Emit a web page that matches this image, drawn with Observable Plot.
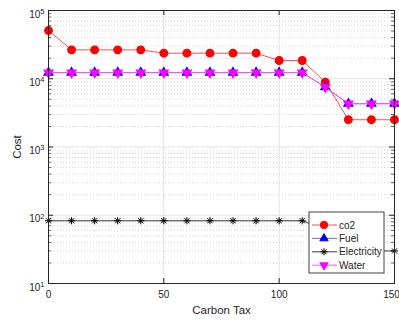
<!DOCTYPE html>
<html>
<head>
<meta charset="utf-8">
<script src="https://cdn.jsdelivr.net/npm/d3@7"></script>
<script src="https://cdn.jsdelivr.net/npm/@observablehq/plot@0.6"></script>
<style>
  html, body { margin: 0; padding: 0; background: white; }
</style>
</head>
<body>
<div id="chart"></div>
<script>
const carbonTax = [0, 10, 20, 30, 40, 50, 60, 70, 80, 90, 100, 110, 120, 130, 140, 150];
const co2 = [50800, 26500, 26500, 26500, 26500, 23700, 23700, 23700, 23700, 23700, 18500, 18500, 8930, 2510, 2510, 2510];
const fuel = [12300, 12300, 12300, 12300, 12300, 12300, 12300, 12300, 12300, 12300, 12300, 12300, 7540, 4310, 4310, 4310];
const electricity = [83, 83, 83, 83, 83, 83, 83, 83, 83, 83, 83, 83, 62, 30, 30, 30];
const water = [12300, 12300, 12300, 12300, 12300, 12300, 12300, 12300, 12300, 12300, 12300, 12300, 7540, 4310, 4310, 4310];
const seriesNames = ["co2", "Fuel", "Electricity", "Water"];
const xTicks = [0, 50, 100, 150];
const yMajor = [10, 100, 1000, 10000, 100000];

const seriesValues = [co2, fuel, electricity, water];
const lineColors = ["#ff4d4d", "#6a6aff", "#3a3a3a", "#ff55ff"];
const markColors = ["#ff0000", "#0000ff", "#000000", "#ff00ff"];

const rows = (vals, name) => carbonTax.map((x, i) => ({x, y: vals[i], name}));
const tables = seriesValues.map((v, k) => rows(v, seriesNames[k]));

const yMinor = [];
for (let e = 1; e < 5; e++) for (let m = 2; m <= 9; m++) yMinor.push(m * Math.pow(10, e));

// MATLAB-style eight-armed asterisk
const star8 = {
  draw(ctx, size) {
    const r = Math.sqrt(size / Math.PI);
    const d = r * Math.SQRT1_2;
    ctx.moveTo(-r, 0); ctx.lineTo(r, 0);
    ctx.moveTo(0, -r); ctx.lineTo(0, r);
    ctx.moveTo(-d, -d); ctx.lineTo(d, d);
    ctx.moveTo(-d, d); ctx.lineTo(d, -d);
  }
};

const W = 399, H = 320, ML = 48, MR = 5, MT = 10, MB = 37;
const fw = W - ML - MR, fh = H - MT - MB;
const FONT = "'Liberation Sans', Arial, sans-serif";

const svg = Plot.plot({
  width: W, height: H,
  marginLeft: ML, marginRight: MR, marginTop: MT, marginBottom: MB,
  style: {fontFamily: FONT, fontSize: "10px", background: "white", color: "#262626"},
  x: {domain: [0, 150]},
  y: {type: "log", domain: [10, 100000]},
  marks: [
    Plot.ruleY(yMinor, {y: d => d, stroke: "#c8c8c8", strokeDasharray: "1,2", strokeWidth: 0.8}),
    Plot.ruleY(yMajor, {y: d => d, stroke: "#e2e2e2", strokeWidth: 1}),
    Plot.ruleX(xTicks, {x: d => d, stroke: "#e2e2e2", strokeWidth: 1}),
    // inward ticks
    Plot.ruleY(yMajor, {y: d => d, insetRight: fw - 5, stroke: "#262626"}),
    Plot.ruleY(yMajor, {y: d => d, insetLeft: fw - 5, stroke: "#262626"}),
    Plot.ruleY(yMinor, {y: d => d, insetRight: fw - 3, stroke: "#262626", strokeWidth: 0.7}),
    Plot.ruleY(yMinor, {y: d => d, insetLeft: fw - 3, stroke: "#262626", strokeWidth: 0.7}),
    Plot.ruleX(xTicks, {x: d => d, insetTop: fh - 5, stroke: "#262626"}),
    Plot.ruleX(xTicks, {x: d => d, insetBottom: fh - 5, stroke: "#262626"}),
    Plot.axisX({ticks: xTicks, tickSize: 0, tickPadding: 7, label: "Carbon Tax", labelAnchor: "center", labelArrow: "none", labelOffset: 30}),
    Plot.axisY({ticks: yMajor, tickSize: 0, tickPadding: 4, tickFormat: d => String(Math.round(Math.log10(d))), dy: 4, label: "Cost", labelAnchor: "center", labelArrow: "none", labelOffset: 36}),
    // co2
    Plot.line(tables[0], {x: "x", y: "y", stroke: lineColors[0], strokeWidth: 1}),
    Plot.dot(tables[0], {x: "x", y: "y", r: 3.7, fill: markColors[0], stroke: markColors[0]}),
    // fuel
    Plot.line(tables[1], {x: "x", y: "y", stroke: lineColors[1], strokeWidth: 1}),
    Plot.dot(tables[1], {x: "x", y: "y", r: 3.1, symbol: "triangle", fill: markColors[1], stroke: markColors[1]}),
    // electricity
    Plot.line(tables[2], {x: "x", y: "y", stroke: lineColors[2], strokeWidth: 1}),
    Plot.dot(tables[2], {x: "x", y: "y", r: 3.6, symbol: star8, fill: "none", stroke: markColors[2], strokeWidth: 1}),
    // water
    Plot.line(tables[3], {x: "x", y: "y", stroke: lineColors[3], strokeWidth: 1}),
    Plot.dot(tables[3], {x: "x", y: "y", r: 3.1, symbol: "triangle", rotate: 180, fill: markColors[3], stroke: markColors[3]}),
    Plot.frame({stroke: "#262626", strokeWidth: 1})
  ]
});

const s = d3.select(svg);
// axis label font sizes
s.selectAll("g[aria-label='x-axis label'] text, g[aria-label='y-axis label'] text")
  .style("font-size", "11.5px");

// y tick labels as 10 with superscript exponent
s.selectAll("g[aria-label='y-axis tick label'] text").each(function() {
  const t = d3.select(this);
  const e = t.text();
  t.text("");
  t.append("tspan").text("10");
  t.append("tspan").attr("dy", "-0.5em").style("font-size", "7.5px").text(e);
});

// keep the last x tick label inside the picture
const xl = s.selectAll("g[aria-label='x-axis tick label'] text").nodes();
if (xl.length) d3.select(xl[xl.length - 1]).attr("dx", -3);

// legend overlay
const lg = s.append("g").attr("class", "legend");
const lx = 309, ly = 212, lw = 75, lh = 61;
lg.append("rect").attr("x", lx).attr("y", ly).attr("width", lw).attr("height", lh)
  .attr("fill", "white").attr("stroke", "#404040").attr("stroke-width", 1);
const symbols = [d3.symbolCircle, d3.symbolTriangle, star8, d3.symbolTriangle];
const symSizes = [43, 30, 40, 30];
seriesNames.forEach((name, k) => {
  const yy = ly + 13 + k * 13.4;
  lg.append("line").attr("x1", lx + 3).attr("x2", lx + 28).attr("y1", yy).attr("y2", yy)
    .attr("stroke", lineColors[k]).attr("stroke-width", 1);
  const sym = d3.symbol(symbols[k], symSizes[k]);
  const isStroke = k === 2;
  lg.append("path").attr("d", sym())
    .attr("transform", `translate(${lx + 15},${yy})` + (k === 3 ? " rotate(180)" : ""))
    .attr("fill", isStroke ? "none" : markColors[k])
    .attr("stroke", markColors[k]).attr("stroke-width", 1);
  lg.append("text").attr("x", lx + 30).attr("y", yy).attr("dy", "0.35em")
    .attr("text-anchor", "start")
    .attr("font-size", "10px").attr("fill", "#262626")
    .attr("font-family", FONT).text(name);
});

document.getElementById("chart").appendChild(svg);
</script>
</body>
</html>
